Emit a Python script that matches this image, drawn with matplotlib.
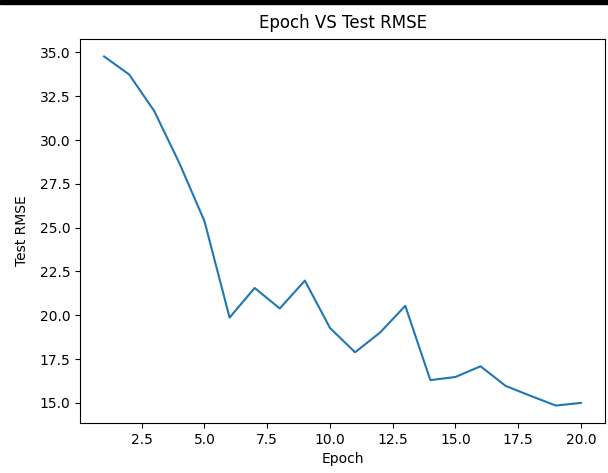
import matplotlib
matplotlib.use("AGG")
import matplotlib.pyplot as plt
from matplotlib.patches import Rectangle

# values
epochs = list(range(1, 21))
test_rmse = [34.77, 33.74, 31.65, 28.68, 25.37, 19.87, 21.56, 20.39, 21.98, 19.28,
             17.89, 19.02, 20.54, 16.30, 16.48, 17.09, 15.97, 15.40, 14.85, 15.00]

fig = plt.figure(figsize=(6.08, 4.73), dpi=100)
ax = fig.add_subplot(111)
fig.subplots_adjust(left=0.132, right=0.9947, top=0.9175, bottom=0.1057)

ax.plot(epochs, test_rmse)
ax.set_title("Epoch VS Test RMSE", pad=8)
ax.set_xlabel("Epoch")
ax.set_ylabel("Test RMSE", labelpad=8)

### screenshot strip at top ###
fig.add_artist(Rectangle((0, 1 - 4 / 473), 1, 4 / 473, transform=fig.transFigure,
                         color="black", zorder=10))

fig.savefig("out.png", dpi=100)
